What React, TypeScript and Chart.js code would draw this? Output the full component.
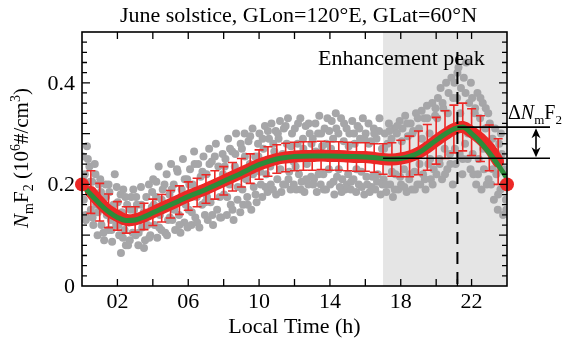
import { useEffect, useRef } from "react";
import { Chart, registerables } from "chart.js";
Chart.register(...registerables);

const chartTitle = "June solstice, GLon=120°E, GLat=60°N";
const xAxisTitle = "Local Time (h)";
const xTickMarks = [2, 4, 6, 8, 10, 12, 14, 16, 18, 20, 22];
const xLabelValues = [2, 6, 10, 14, 18, 22];
const xLabelTexts = ["02", "06", "10", "14", "18", "22"];
const yLabelValues = [0, 0.2, 0.4];
const yLabelTexts = ["0", "0.2", "0.4"];
const yMinorStep = 0.02;
const yMajorStep = 0.1;

const shadeStart = 17;
const peakTime = 21.2;
const peakValue = 0.3127;
const baseValue = 0.2516;
const peakText = "Enhancement peak";

// Gray scatter: individual observations [local time, NmF2]
const grayPoints: [number, number][] = [
  [0.04,0.255],[0.1,0.17],[0.16,0.22],[0.22,0.13],[0.28,0.275],[0.35,0.19],[0.42,0.235],[0.5,0.15],[0.57,0.205],[0.64,0.12],[0.72,0.24],[0.8,0.16],[0.88,0.1],[0.95,0.2],
  [1.03,0.21],[1.1,0.12],[1.18,0.17],[1.25,0.09],[1.33,0.2],[1.4,0.14],[1.48,0.11],[1.55,0.185],[1.63,0.13],[1.7,0.087],[1.78,0.16],[1.85,0.22],[1.93,0.12],
  [2.02,0.165],[2.1,0.1],[2.2,0.065],[2.25,0.145],[2.33,0.19],[2.4,0.11],[2.48,0.08],[2.55,0.16],[2.62,0.125],[2.7,0.09],[2.78,0.175],[2.86,0.105],[2.94,0.15],
  [3.03,0.1],[3.1,0.16],[3.18,0.08],[3.26,0.13],[3.33,0.195],[3.4,0.115],[3.48,0.145],[3.56,0.09],[3.63,0.175],[3.7,0.12],[3.78,0.2],[3.86,0.1],[3.94,0.155],
  [4.02,0.21],[4.1,0.12],[4.18,0.175],[4.25,0.095],[4.33,0.235],[4.4,0.14],[4.48,0.11],[4.56,0.19],[4.63,0.155],[4.7,0.105],[4.78,0.22],[4.86,0.13],[4.94,0.18],
  [5.03,0.24],[5.1,0.13],[5.18,0.2],[5.26,0.11],[5.33,0.17],[5.4,0.225],[5.48,0.14],[5.56,0.105],[5.63,0.19],[5.7,0.25],[5.78,0.125],[5.86,0.16],[5.94,0.21],
  [6.02,0.15],[6.1,0.23],[6.18,0.12],[6.25,0.2],[6.33,0.265],[6.4,0.135],[6.48,0.175],[6.56,0.24],[6.63,0.115],[6.7,0.215],[6.78,0.16],[6.86,0.255],[6.94,0.14],
  [7.03,0.22],[7.1,0.13],[7.18,0.27],[7.26,0.165],[7.33,0.245],[7.4,0.12],[7.48,0.2],[7.56,0.28],[7.63,0.15],[7.7,0.235],[7.78,0.175],[7.86,0.135],[7.94,0.26],
  [8.02,0.18],[8.1,0.25],[8.18,0.14],[8.25,0.29],[8.33,0.2],[8.4,0.16],[8.48,0.265],[8.56,0.13],[8.63,0.235],[8.7,0.3],[8.78,0.17],[8.86,0.22],[8.94,0.145],
  [9.03,0.27],[9.1,0.16],[9.18,0.3],[9.26,0.21],[9.33,0.175],[9.4,0.285],[9.48,0.24],[9.56,0.15],[9.63,0.31],[9.7,0.195],[9.78,0.255],[9.86,0.165],[9.94,0.28],
  [10.02,0.3],[10.1,0.2],[10.18,0.175],[10.25,0.27],[10.33,0.315],[10.4,0.22],[10.48,0.185],[10.56,0.29],[10.63,0.235],[10.7,0.32],[10.78,0.19],[10.86,0.265],[10.94,0.305],
  [11.03,0.21],[11.1,0.29],[11.18,0.325],[11.26,0.185],[11.33,0.26],[11.4,0.31],[11.48,0.2],[11.56,0.28],[11.63,0.33],[11.7,0.225],[11.78,0.19],[11.86,0.3],[11.94,0.245],
  [12.02,0.31],[12.1,0.19],[12.18,0.28],[12.25,0.22],[12.33,0.33],[12.4,0.205],[12.48,0.29],[12.56,0.185],[12.63,0.315],[12.7,0.24],[12.78,0.2],[12.86,0.3],[12.94,0.215],
  [13.03,0.29],[13.1,0.21],[13.18,0.32],[13.26,0.185],[13.33,0.3],[13.4,0.335],[13.48,0.2],[13.56,0.275],[13.63,0.22],[13.7,0.31],[13.78,0.19],[13.86,0.33],[13.94,0.23],
  [14.02,0.2],[14.1,0.325],[14.18,0.29],[14.25,0.18],[14.33,0.34],[14.4,0.215],[14.48,0.3],[14.56,0.195],[14.63,0.33],[14.7,0.21],[14.78,0.285],[14.86,0.19],[14.94,0.31],
  [15.03,0.22],[15.1,0.3],[15.18,0.19],[15.26,0.325],[15.33,0.21],[15.4,0.28],[15.48,0.185],[15.56,0.315],[15.63,0.2],[15.7,0.29],[15.78,0.225],[15.86,0.33],[15.94,0.18],
  [16.02,0.3],[16.1,0.2],[16.18,0.32],[16.25,0.185],[16.33,0.285],[16.4,0.215],[16.48,0.31],[16.56,0.19],[16.63,0.29],[16.7,0.22],[16.78,0.305],[16.86,0.18],[16.94,0.27],
  [17.03,0.21],[17.1,0.3],[17.18,0.185],[17.26,0.28],[17.33,0.32],[17.4,0.2],[17.48,0.29],[17.56,0.175],[17.63,0.31],[17.7,0.22],[17.78,0.3],[17.86,0.19],[17.94,0.325],
  [18.02,0.2],[18.1,0.31],[18.18,0.23],[18.25,0.335],[18.33,0.185],[18.4,0.295],[18.48,0.21],[18.56,0.32],[18.63,0.19],[18.7,0.305],[18.78,0.225],[18.86,0.34],[18.94,0.2],
  [19.03,0.31],[19.1,0.2],[19.18,0.345],[19.26,0.22],[19.33,0.33],[19.4,0.19],[19.48,0.355],[19.56,0.24],[19.63,0.3],[19.7,0.21],[19.78,0.36],[19.86,0.23],[19.94,0.335],
  [20.02,0.22],[20.1,0.37],[20.18,0.25],[20.25,0.39],[20.33,0.21],[20.4,0.35],[20.48,0.27],[20.56,0.4],[20.63,0.23],[20.7,0.38],[20.78,0.26],[20.86,0.41],[20.94,0.2],
  [21.03,0.4],[21.1,0.24],[21.18,0.37],[21.26,0.43],[21.33,0.26],[21.4,0.39],[21.48,0.22],[21.56,0.41],[21.63,0.28],[21.7,0.44],[21.78,0.25],[21.86,0.36],[21.94,0.23],
  [22.03,0.37],[22.1,0.22],[22.18,0.34],[22.26,0.2],[22.33,0.38],[22.4,0.25],[22.48,0.33],[22.56,0.19],[22.63,0.36],[22.7,0.23],[22.78,0.31],[22.86,0.2],[22.94,0.34],
  [23.03,0.32],[23.1,0.2],[23.18,0.29],[23.26,0.17],[23.33,0.31],[23.4,0.22],[23.48,0.15],[23.56,0.28],[23.63,0.19],[23.7,0.26],[23.78,0.14],[23.86,0.23],[23.94,0.17],
];

// Second batch of gray observations (other days)
const grayPointsMore: [number, number][] = [
  [0.07,0.215],[0.2,0.14],[0.33,0.25],[0.47,0.205],[0.6,0.135],[0.76,0.22],[0.9,0.145],
  [1.07,0.185],[1.21,0.105],[1.36,0.175],[1.5,0.2],[1.66,0.11],[1.8,0.14],[1.96,0.195],
  [2.06,0.12],[2.18,0.18],[2.31,0.095],[2.45,0.175],[2.6,0.08],[2.74,0.15],[2.9,0.19],
  [3.06,0.175],[3.2,0.105],[3.35,0.16],[3.5,0.075],[3.66,0.14],[3.8,0.095],[3.96,0.185],
  [4.06,0.16],[4.2,0.205],[4.36,0.115],[4.5,0.17],[4.66,0.2],[4.8,0.1],[4.96,0.135],
  [5.06,0.19],[5.21,0.15],[5.36,0.23],[5.5,0.12],[5.66,0.175],[5.8,0.21],[5.96,0.115],
  [6.06,0.2],[6.2,0.145],[6.36,0.24],[6.5,0.125],[6.66,0.19],[6.8,0.225],[6.96,0.165],
  [7.06,0.175],[7.2,0.24],[7.36,0.14],[7.5,0.255],[7.66,0.205],[7.8,0.135],[7.96,0.22],
  [8.06,0.235],[8.2,0.175],[8.36,0.27],[8.5,0.15],[8.66,0.26],[8.8,0.195],[8.96,0.28],
  [9.06,0.19],[9.2,0.255],[9.36,0.16],[9.5,0.295],[9.66,0.22],[9.8,0.18],[9.96,0.255],
  [10.06,0.225],[10.2,0.29],[10.36,0.195],[10.5,0.305],[10.66,0.2],[10.8,0.28],[10.96,0.18],
  [11.06,0.3],[11.2,0.23],[11.36,0.2],[11.5,0.315],[11.66,0.21],[11.8,0.275],[11.96,0.2],
  [12.06,0.235],[12.2,0.32],[12.36,0.19],[12.5,0.27],[12.66,0.21],[12.8,0.32],[12.96,0.28],
  [13.06,0.2],[13.2,0.265],[13.36,0.22],[13.5,0.3],[13.66,0.19],[13.8,0.28],[13.96,0.305],
  [14.06,0.27],[14.2,0.205],[14.36,0.31],[14.5,0.23],[14.66,0.185],[14.8,0.32],[14.96,0.2],
  [15.06,0.275],[15.2,0.205],[15.36,0.3],[15.5,0.23],[15.66,0.31],[15.8,0.195],[15.96,0.29],
  [16.06,0.215],[16.2,0.28],[16.36,0.195],[16.5,0.3],[16.66,0.205],[16.8,0.33],[16.96,0.2],
  [17.06,0.27],[17.2,0.2],[17.36,0.305],[17.5,0.225],[17.66,0.19],[17.8,0.315],[17.96,0.215],
  [18.06,0.285],[18.2,0.195],[18.36,0.32],[18.5,0.22],[18.66,0.3],[18.8,0.19],[18.96,0.33],
  [19.06,0.24],[19.2,0.29],[19.36,0.21],[19.5,0.33],[19.66,0.25],[19.8,0.2],[19.96,0.35],
  [20.06,0.33],[20.2,0.24],[20.36,0.36],[20.5,0.22],[20.66,0.34],[20.8,0.24],[20.96,0.37],
  [21.06,0.27],[21.2,0.42],[21.36,0.34],[21.5,0.25],[21.66,0.38],[21.8,0.3],[21.96,0.4],
  [22.06,0.26],[22.2,0.35],[22.36,0.22],[22.5,0.37],[22.66,0.27],[22.8,0.35],[22.96,0.21],
  [23.06,0.27],[23.2,0.23],[23.36,0.26],[23.5,0.18],[23.66,0.3],[23.8,0.2],[23.96,0.15],
];

// Red: binned means with standard deviation error bars
const redTimes = [0.5,1,1.5,2,2.5,3,3.5,4,4.5,5,5.5,6,6.5,7,7.5,8,8.5,9,9.5,10,10.5,11,11.5,12,12.5,13,13.5,14,14.5,15,15.5,16,16.5,17,17.5,18,18.5,19,19.5,20,20.5,21,21.5,22,22.5,23,23.5];
const redMeans = [0.185,0.165,0.148,0.138,0.13,0.131,0.137,0.145,0.153,0.161,0.169,0.177,0.184,0.191,0.199,0.207,0.215,0.223,0.231,0.239,0.245,0.25,0.253,0.255,0.256,0.256,0.257,0.256,0.256,0.255,0.254,0.254,0.252,0.25,0.249,0.251,0.255,0.262,0.273,0.286,0.298,0.309,0.313,0.303,0.29,0.272,0.245];
const redErrors = [0.042,0.037,0.033,0.028,0.026,0.025,0.026,0.026,0.027,0.027,0.028,0.028,0.028,0.028,0.028,0.028,0.028,0.028,0.029,0.029,0.029,0.028,0.028,0.028,0.028,0.028,0.028,0.028,0.028,0.028,0.028,0.028,0.028,0.03,0.033,0.036,0.04,0.043,0.045,0.046,0.047,0.047,0.047,0.046,0.045,0.045,0.045];

// Green: fitted curve
const fitTimes = [0,0.5,1,1.5,2,2.5,3,3.5,4,4.5,5,5.5,6,6.5,7,7.5,8,8.5,9,9.5,10,10.5,11,11.5,12,13,14,15,16,17,17.5,18,18.5,19,19.5,20,20.5,21,21.5,22,22.5,23,23.5,24];
const fitValues = [0.199,0.18,0.162,0.146,0.135,0.129,0.13,0.136,0.144,0.152,0.16,0.168,0.176,0.183,0.19,0.198,0.206,0.214,0.222,0.231,0.239,0.245,0.25,0.253,0.255,0.256,0.256,0.255,0.254,0.251,0.25,0.251,0.255,0.262,0.274,0.287,0.299,0.309,0.313,0.3,0.283,0.262,0.238,0.212];

// Red end points at 00 LT and 24 LT
const endTimes = [0, 24];
const endValues = [0.2, 0.2];

const RED = "rgb(236,40,38)";
const GREEN = "rgb(44,140,58)";
const GRAY = "rgb(166,166,168)";
const SHADE = "rgb(229,229,229)";
const FONT = "'Liberation Serif', 'Times New Roman', serif";

type Part = { t: string; it?: boolean; sub?: boolean; sup?: boolean };

function drawRich(ctx: CanvasRenderingContext2D, parts: Part[], x: number, y: number, size: number, align: "left" | "center") {
  const small = Math.round(size * 0.66);
  const fontOf = (p: Part) => `${p.it ? "italic " : ""}${p.sub || p.sup ? small : size}px ${FONT}`;
  let total = 0;
  for (const p of parts) { ctx.font = fontOf(p); total += ctx.measureText(p.t).width; }
  let cx = align === "center" ? x - total / 2 : x;
  ctx.textAlign = "left";
  ctx.textBaseline = "alphabetic";
  for (const p of parts) {
    ctx.font = fontOf(p);
    const dy = p.sub ? size * 0.25 : p.sup ? -size * 0.38 : 0;
    ctx.fillText(p.t, cx, y + dy);
    cx += ctx.measureText(p.t).width;
  }
}

const decor = {
  id: "decor",
  beforeDatasetsDraw(chart: any) {
    const { ctx, chartArea: a, scales } = chart;
    const xs = scales.x.getPixelForValue(shadeStart);
    ctx.save();
    ctx.fillStyle = SHADE;
    ctx.fillRect(xs, a.top, a.right - xs, a.bottom - a.top);
    ctx.restore();
  },
  afterDatasetDraw(chart: any, args: any) {
    if (args.index !== 1) return;
    const { ctx, scales } = chart;
    ctx.save();
    ctx.strokeStyle = RED;
    ctx.lineWidth = 1.6;
    for (let i = 0; i < redTimes.length; i++) {
      const px = scales.x.getPixelForValue(redTimes[i]);
      const y1 = scales.y.getPixelForValue(redMeans[i] + redErrors[i]);
      const y2 = scales.y.getPixelForValue(redMeans[i] - redErrors[i]);
      ctx.beginPath();
      ctx.moveTo(px, y1); ctx.lineTo(px, y2);
      ctx.moveTo(px - 4.5, y1); ctx.lineTo(px + 4.5, y1);
      ctx.moveTo(px - 4.5, y2); ctx.lineTo(px + 4.5, y2);
      ctx.stroke();
    }
    ctx.restore();
  },
  afterDatasetsDraw(chart: any) {
    const { ctx, chartArea: a, scales } = chart;
    const { x, y } = scales;
    const lineEnd = a.right + 43;
    const yPeak = y.getPixelForValue(peakValue);
    const yBase = y.getPixelForValue(baseValue);
    const xPeak = x.getPixelForValue(peakTime);
    ctx.save();
    ctx.strokeStyle = "#000";
    ctx.lineWidth = 1.6;
    ctx.beginPath();
    ctx.moveTo(x.getPixelForValue(shadeStart), yBase); ctx.lineTo(lineEnd, yBase);
    ctx.moveTo(xPeak, yPeak); ctx.lineTo(lineEnd, yPeak);
    ctx.stroke();
    ctx.lineWidth = 2;
    ctx.setLineDash([12, 8]);
    ctx.beginPath();
    ctx.moveTo(xPeak, a.top + 20); ctx.lineTo(xPeak, a.bottom);
    ctx.stroke();
    ctx.setLineDash([]);
    const ax = a.right + 29;
    ctx.lineWidth = 1.6;
    ctx.beginPath();
    ctx.moveTo(ax, yPeak + 6); ctx.lineTo(ax, yBase - 6);
    ctx.stroke();
    ctx.fillStyle = "#000";
    ctx.beginPath();
    ctx.moveTo(ax, yPeak + 1); ctx.lineTo(ax - 4.5, yPeak + 11); ctx.lineTo(ax, yPeak + 8); ctx.lineTo(ax + 4.5, yPeak + 11); ctx.closePath();
    ctx.fill();
    ctx.beginPath();
    ctx.moveTo(ax, yBase - 1); ctx.lineTo(ax - 4.5, yBase - 11); ctx.lineTo(ax, yBase - 8); ctx.lineTo(ax + 4.5, yBase - 11); ctx.closePath();
    ctx.fill();
    ctx.restore();
  },
  afterDraw(chart: any) {
    const { ctx, chartArea: a, scales } = chart;
    const { x, y } = scales;
    ctx.save();
    ctx.strokeStyle = "#000";
    ctx.lineWidth = 1.6;
    ctx.strokeRect(a.left, a.top, a.right - a.left, a.bottom - a.top);
    ctx.lineWidth = 1.3;
    ctx.beginPath();
    for (const v of [...xTickMarks, peakTime]) {
      const px = x.getPixelForValue(v);
      ctx.moveTo(px, a.bottom); ctx.lineTo(px, a.bottom - 7);
      ctx.moveTo(px, a.top); ctx.lineTo(px, a.top + 7);
    }
    const n = Math.round(0.5 / yMinorStep);
    for (let i = 1; i < n; i++) {
      const v = i * yMinorStep;
      const major = Math.abs(v / yMajorStep - Math.round(v / yMajorStep)) < 1e-6;
      const len = major ? 8 : 5;
      const py = y.getPixelForValue(v);
      ctx.moveTo(a.left, py); ctx.lineTo(a.left + len, py);
      ctx.moveTo(a.right, py); ctx.lineTo(a.right - len, py);
    }
    ctx.stroke();

    ctx.fillStyle = "#000";
    ctx.font = `22px ${FONT}`;
    ctx.textAlign = "center";
    ctx.textBaseline = "middle";
    xLabelValues.forEach((v, i) => ctx.fillText(xLabelTexts[i], x.getPixelForValue(v), a.bottom + 16));
    ctx.textAlign = "right";
    yLabelValues.forEach((v, i) => ctx.fillText(yLabelTexts[i], a.left - 7, y.getPixelForValue(v) + 1));
    ctx.textAlign = "center";
    ctx.textBaseline = "alphabetic";
    ctx.fillText(xAxisTitle, (a.left + a.right) / 2, a.bottom + 47);
    ctx.fillText(chartTitle, (a.left + a.right) / 2 + 4, 22);
    ctx.fillText(peakText, x.getPixelForValue(peakTime) - 56, a.top + 33);

    drawRich(ctx, [{ t: "Δ" }, { t: "N", it: true }, { t: "m", sub: true }, { t: "F" }, { t: "2", sub: true }], a.right + 1, y.getPixelForValue(peakValue) - 8, 20, "left");

    ctx.translate(21, 158);
    ctx.rotate(-Math.PI / 2);
    drawRich(ctx, [{ t: "N", it: true }, { t: "m", sub: true }, { t: "F" }, { t: "2", sub: true }, { t: " (10" }, { t: "6", sup: true }, { t: "#/cm" }, { t: "3", sup: true }, { t: ")" }], 0, 7, 21, "center");
    ctx.restore();
  },
};

export default function App() {
  const ref = useRef<HTMLCanvasElement>(null);
  useEffect(() => {
    if (!ref.current) return;
    const allGray = [...grayPoints, ...grayPointsMore];
    const chart = new Chart(ref.current, {
      type: "scatter",
      data: {
        datasets: [
          {
            data: allGray.map(([t, v]) => ({ x: t, y: v })),
            pointRadius: 4,
            pointBackgroundColor: GRAY,
            pointBorderWidth: 0,
            order: 4,
          } as any,
          {
            data: redTimes.map((t, i) => ({ x: t, y: redMeans[i] })),
            showLine: true,
            borderColor: RED,
            borderWidth: 12,
            tension: 0.4,
            borderCapStyle: "round",
            borderJoinStyle: "round",
            pointRadius: 5.5,
            pointBackgroundColor: RED,
            pointBorderWidth: 0,
            order: 3,
          },
          {
            data: fitTimes.map((t, i) => ({ x: t, y: fitValues[i] })),
            showLine: true,
            borderColor: GREEN,
            borderWidth: 5,
            cubicInterpolationMode: "monotone",
            pointRadius: 0,
            order: 2,
          },
          {
            data: endTimes.map((t, i) => ({ x: t, y: endValues[i] })),
            pointRadius: 7,
            pointBackgroundColor: RED,
            pointBorderWidth: 0,
            clip: false,
            order: 1,
          } as any,
        ],
      },
      options: {
        responsive: false,
        animation: false,
        layout: { padding: { left: 82, right: 60, top: 32, bottom: 57 } },
        plugins: { legend: { display: false }, tooltip: { enabled: false }, title: { display: false } },
        scales: {
          x: { type: "linear", min: 0, max: 24, display: false },
          y: { type: "linear", min: 0, max: 0.5, display: false },
        },
      },
      plugins: [decor],
    });
    return () => chart.destroy();
  }, []);
  return (
    <div style={{ position: "fixed", left: 0, top: 0, width: 567, height: 343, background: "#fff" }}>
      <canvas ref={ref} width={567} height={343} style={{ width: 567, height: 343 }} />
    </div>
  );
}
